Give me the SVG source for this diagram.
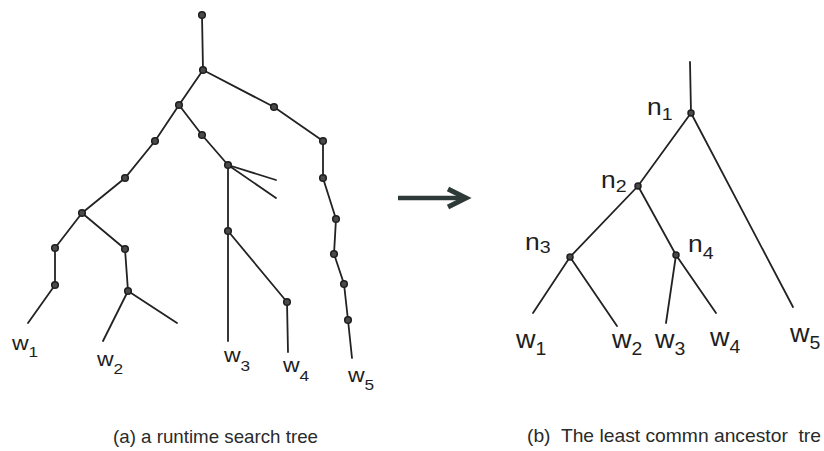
<svg xmlns="http://www.w3.org/2000/svg" width="824" height="451" viewBox="0 0 824 451">
<style>
.e{stroke:#222;stroke-width:1.8;fill:none;stroke-linecap:round}
.n{fill:#4a4a4a;stroke:#1e1e1e;stroke-width:1.5}
.lbl{font-family:"Liberation Sans",Arial,sans-serif;fill:#1e1e1e}
.cap{font-family:"Liberation Sans",Arial,sans-serif;fill:#2a2a2a;font-size:19px;white-space:pre}
</style>
<rect width="824" height="451" fill="#fff"/>
<g id="connectors">
<path class="e" d="M202,15 L203,70"/>
<path class="e" d="M203,70 L179,105"/>
<path class="e" d="M203,70 L274,107 L323,141 L323,178 L336,219 L334,254 L344,284 L348,320 L352,358"/>
<path class="e" d="M179,105 L155,141 L125,178 L82,213"/>
<path class="e" d="M82,213 L55,248 L55,285 L28,323"/>
<path class="e" d="M82,213 L125,249 L128,291 L103,341"/>
<path class="e" d="M128,291 L177,323"/>
<path class="e" d="M179,105 L202,135 L228,165"/>
<path class="e" d="M228,165 L276,180"/>
<path class="e" d="M228,165 L276,198"/>
<path class="e" d="M228,165 L228,341"/>
<path class="e" d="M228,231 L287,302 L288,352"/>
<path d="M398,198 L462,198" stroke="#2e3a37" stroke-width="4.5" fill="none"/>
<path d="M448,189 L466,198 L448,207" stroke="#2e3a37" stroke-width="5" fill="none" stroke-linejoin="miter"/>
<path class="e" d="M690,62 L691,113"/>
<path class="e" d="M691,113 L793,307"/>
<path class="e" d="M691,113 L638,186 L570,257 L533,313"/>
<path class="e" d="M570,257 L617,326"/>
<path class="e" d="M638,186 L676,255 L716,313"/>
<path class="e" d="M676,255 L666,323"/>
</g>
<g id="left-nodes">
<g id="r0"><circle class="n" cx="202" cy="15" r="3.3"/></g>
<g id="a"><circle class="n" cx="203" cy="70" r="3.3"/></g>
<g id="b"><circle class="n" cx="179" cy="105" r="3.3"/></g>
<g id="c1"><circle class="n" cx="274" cy="107" r="3.3"/></g>
<g id="c2"><circle class="n" cx="323" cy="141" r="3.3"/></g>
<g id="c3"><circle class="n" cx="323" cy="178" r="3.3"/></g>
<g id="c4"><circle class="n" cx="336" cy="219" r="3.3"/></g>
<g id="c5"><circle class="n" cx="334" cy="254" r="3.3"/></g>
<g id="c6"><circle class="n" cx="344" cy="284" r="3.3"/></g>
<g id="c7"><circle class="n" cx="348" cy="320" r="3.3"/></g>
<g id="d1"><circle class="n" cx="155" cy="141" r="3.3"/></g>
<g id="d2"><circle class="n" cx="125" cy="178" r="3.3"/></g>
<g id="e"><circle class="n" cx="82" cy="213" r="3.3"/></g>
<g id="f1"><circle class="n" cx="55" cy="248" r="3.3"/></g>
<g id="f2"><circle class="n" cx="55" cy="285" r="3.3"/></g>
<g id="g1"><circle class="n" cx="125" cy="249" r="3.3"/></g>
<g id="g2"><circle class="n" cx="128" cy="291" r="3.3"/></g>
<g id="h1"><circle class="n" cx="202" cy="135" r="3.3"/></g>
<g id="h2"><circle class="n" cx="228" cy="165" r="3.3"/></g>
<g id="i"><circle class="n" cx="228" cy="231" r="3.3"/></g>
<g id="j"><circle class="n" cx="287" cy="302" r="3.3"/></g>
</g>
<g id="left-labels" class="lbl">
<g id="lw1"><text transform="translate(12,350) scale(1.15,1)" font-size="20">w<tspan font-size="15" dy="7">1</tspan></text></g>
<g id="lw2"><text transform="translate(97,366) scale(1.15,1)" font-size="20">w<tspan font-size="15" dy="8">2</tspan></text></g>
<g id="lw3"><text transform="translate(224,362) scale(1.15,1)" font-size="20">w<tspan font-size="15" dy="9">3</tspan></text></g>
<g id="lw4"><text transform="translate(283,372) scale(1.15,1)" font-size="20">w<tspan font-size="15" dy="9">4</tspan></text></g>
<g id="lw5"><text transform="translate(348,382) scale(1.15,1)" font-size="20">w<tspan font-size="15" dy="8">5</tspan></text></g>
</g>
<g id="right-nodes">
<g id="n1"><circle class="n" cx="691" cy="113" r="3"/><text class="lbl" transform="translate(647,115) scale(1.15,1)" font-size="23">n<tspan font-size="17" dy="5">1</tspan></text></g>
<g id="n2"><circle class="n" cx="638" cy="186" r="3"/><text class="lbl" transform="translate(601,188) scale(1.15,1)" font-size="23">n<tspan font-size="17" dy="4">2</tspan></text></g>
<g id="n3"><circle class="n" cx="570" cy="257" r="3"/><text class="lbl" transform="translate(525,250) scale(1.15,1)" font-size="23">n<tspan font-size="17" dy="3">3</tspan></text></g>
<g id="n4"><circle class="n" cx="676" cy="255" r="3"/><text class="lbl" transform="translate(688,252) scale(1.15,1)" font-size="23">n<tspan font-size="17" dy="7">4</tspan></text></g>
</g>
<g id="right-labels" class="lbl">
<g id="rw1"><text transform="translate(516,348) scale(1.08,1)" font-size="25">w<tspan font-size="18" dy="7">1</tspan></text></g>
<g id="rw2"><text transform="translate(612,348) scale(1.08,1)" font-size="25">w<tspan font-size="18" dy="7">2</tspan></text></g>
<g id="rw3"><text transform="translate(655,348) scale(1.08,1)" font-size="25">w<tspan font-size="18" dy="7">3</tspan></text></g>
<g id="rw4"><text transform="translate(710,346) scale(1.08,1)" font-size="25">w<tspan font-size="18" dy="7">4</tspan></text></g>
<g id="rw5"><text transform="translate(790,342) scale(1.08,1)" font-size="25">w<tspan font-size="18" dy="7">5</tspan></text></g>
</g>
<g id="captions">
<text class="cap" x="113" y="443" textLength="205" lengthAdjust="spacingAndGlyphs">(a) a runtime search tree</text>
<text class="cap" x="527" y="442" textLength="294" lengthAdjust="spacingAndGlyphs">(b)  The least commn ancestor  tre</text>
</g>
</svg>
